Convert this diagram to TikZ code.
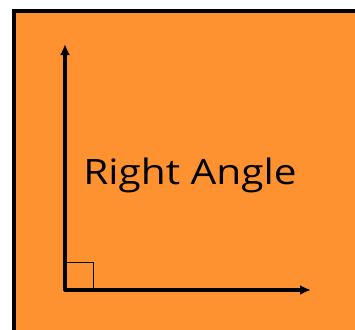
\documentclass[tikz,border=0pt]{standalone}
\usepackage{fontspec}
\setmainfont{Open Sans}
\usetikzlibrary{arrows.meta}
\definecolor{bgorange}{RGB}{254,145,48}
\tikzset{
  axes/.style={line width=3.2pt, line join=round,
    {Latex[length=11pt,width=10pt]}-{Latex[length=11pt,width=10pt]}},
  lbl/.style={font=\fontsize{35}{40}\selectfont, inner sep=0pt, anchor=base}
}
\begin{document}
\begin{tikzpicture}[x=1pt,y=-1pt]
\useasboundingbox (0,0) rectangle (355,329);
\fill[white] (0,0) rectangle (355,329);
\draw[line width=4pt, fill=bgorange] (14,11) rectangle (370,345);
\coordinate (o) at (65,290);
\coordinate (ytip) at (65,44);
\coordinate (xtip) at (311,290);
\draw[line width=1pt] (65,262) -- (93,262) -- (93,290);
\draw[axes] (ytip) -- (o) -- (xtip);
\node[lbl] (t) at (190,184) {\scalebox{1.16}[1]{Right Angle}};
\end{tikzpicture}
\end{document}
